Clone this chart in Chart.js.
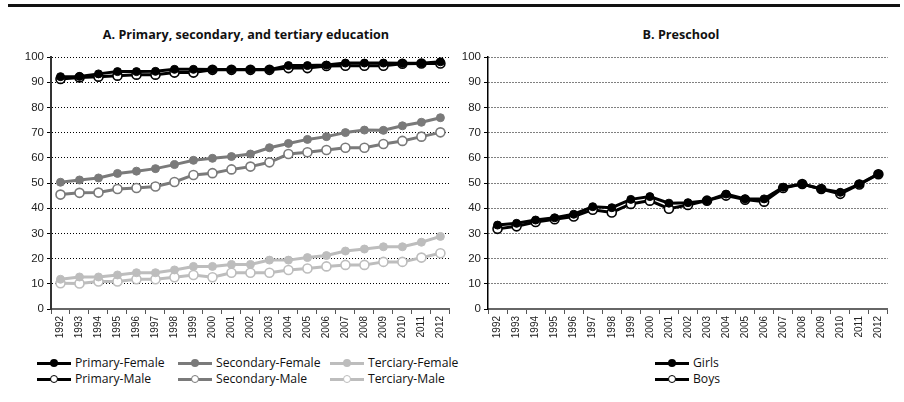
<!DOCTYPE html>
<html>
<head>
<meta charset="utf-8">
<script src="https://cdn.jsdelivr.net/npm/chart.js@4.4.0/dist/chart.umd.min.js"></script>
<style>
  body { margin: 0; background: #fff; width: 904px; height: 402px; position: relative; overflow: hidden;
         font-family: "Liberation Sans Narrow", "Arial Narrow", "Open Sans", sans-serif; color: #111; }
  .rule { position: absolute; left: 8px; top: 4px; width: 892px; height: 3px; background: #111; }
  .title { position: absolute; top: 27px; font-weight: bold; font-size: 12.6px; line-height: 16px; white-space: nowrap; transform: translateX(-50%); }
  .box { position: absolute; }
  .item { position: absolute; height: 16px; font-size: 12.2px; line-height: 16px; white-space: nowrap; }
  .item .ln { position: absolute; left: 0; top: 6.5px; width: 34px; height: 3px; }
  .item .dot { position: absolute; left: 13px; top: 4px; width: 8px; height: 8px; border-radius: 50%; box-sizing: border-box; }
  .item .tx { position: absolute; left: 38px; top: 0; }
</style>
</head>
<body>
<div class="rule"></div>
<div class="title" style="left:246px">A. Primary, secondary, and tertiary education</div>
<div class="title" style="left:681px">B. Preschool</div>
<div class="box" style="left:0;top:40px"><canvas id="chartA" width="456" height="300"></canvas></div>
<div class="box" style="left:450px;top:40px"><canvas id="chartB" width="444" height="300"></canvas></div>
<div id="legend"></div>
<script>
// categories
const years = ['1992', '1993', '1994', '1995', '1996', '1997', '1998', '1999', '2000', '2001', '2002',
               '2003', '2004', '2005', '2006', '2007', '2008', '2009', '2010', '2011', '2012'];

// panel A: primary, secondary, tertiary enrolment (%)
const primaryFemale   = [92.2, 92.3, 93.3, 94.2, 94.2, 94.3, 95.1, 95.1, 95.0, 95.0, 95.0, 95.0, 96.6, 96.6, 96.8, 97.6, 97.6, 97.6, 97.5, 97.5, 98.1];
const primaryMale     = [91.3, 91.9, 92.2, 92.6, 93.0, 93.0, 93.8, 93.8, 94.9, 94.9, 94.9, 94.9, 95.6, 95.6, 96.4, 96.5, 96.5, 96.5, 97.3, 97.4, 97.4];
const secondaryFemale = [50.3, 51.2, 52.0, 53.8, 54.7, 55.7, 57.3, 59.0, 59.8, 60.5, 61.5, 64.0, 65.7, 67.3, 68.4, 70.0, 71.0, 70.9, 72.7, 74.1, 75.9];
const secondaryMale   = [45.4, 46.1, 46.2, 47.6, 48.0, 48.6, 50.4, 53.2, 53.9, 55.4, 56.5, 58.2, 61.5, 62.2, 63.1, 64.0, 64.0, 65.5, 66.7, 68.4, 70.1];
const terciaryFemale  = [11.8, 12.7, 12.7, 13.5, 14.4, 14.4, 15.5, 16.9, 16.9, 17.7, 17.7, 19.4, 19.4, 20.4, 21.2, 23.0, 23.8, 24.7, 24.7, 26.5, 28.8];
const terciaryMale    = [10.2, 10.1, 10.9, 10.9, 11.8, 11.8, 12.6, 13.5, 12.6, 14.4, 14.4, 14.4, 15.5, 16.1, 16.9, 17.5, 17.5, 18.7, 18.7, 20.4, 22.1];

// panel B: preschool enrolment (%)
const girls = [33.3, 34.0, 35.3, 36.2, 37.6, 40.6, 40.2, 43.5, 44.6, 42.0, 42.2, 43.0, 45.6, 43.7, 43.7, 48.3, 49.6, 47.6, 46.3, 49.6, 53.6];
const boys  = [31.8, 32.8, 34.5, 35.6, 36.7, 39.4, 38.3, 41.7, 43.0, 39.8, 41.3, 43.0, 45.0, 43.4, 42.6, 48.0, 49.6, 47.6, 45.7, 49.4, 53.5];

const yTicks = [0, 10, 20, 30, 40, 50, 60, 70, 80, 90, 100];

const BLACK = '#000000';
const MID = '#7a7a7a';
const LIGHT = '#bdbdbd';

function filled(label, data, color) {
    return {
        label, data,
        borderColor: color, borderWidth: 3,
        pointRadius: 4, pointBackgroundColor: color, pointBorderColor: color, pointBorderWidth: 1,
        tension: 0, fill: false
    };
}

function open(label, data, color) {
    return {
        label, data,
        borderColor: color, borderWidth: 3,
        pointRadius: 4.5, pointBackgroundColor: '#ffffff', pointBorderColor: color, pointBorderWidth: 1.6,
        tension: 0, fill: false
    };
}

function makeOptions(yWidth, padRight, yAxisColor, yAxisWidth) {
    return {
        responsive: false,
        animation: false,
        devicePixelRatio: 1,
        layout: { padding: { top: 17, right: padRight, left: 0, bottom: 0 } },
        plugins: { legend: { display: false }, tooltip: { enabled: false } },
        scales: {
            x: {
                type: 'category',
                offset: true,
                grid: { drawOnChartArea: false, drawTicks: true, tickLength: 5, offset: true, tickColor: '#555', tickWidth: 1 },
                border: { color: '#666', width: 2 },
                ticks: {
                    autoSkip: false, minRotation: 90, maxRotation: 90, padding: 2,
                    color: '#222', font: { family: '"Liberation Sans", Arial, sans-serif', size: 10 }
                },
                afterFit: s => { s.height = 31; }
            },
            y: {
                min: 0, max: 100,
                afterBuildTicks: s => { s.ticks = yTicks.map(v => ({ value: v })); },
                grid: { color: '#000', lineWidth: 1, tickLength: 4, tickColor: '#000', tickWidth: 1 },
                border: { color: yAxisColor, width: yAxisWidth, dash: [1, 2] },
                ticks: {
                    padding: 3, color: '#222',
                    font: { family: '"Liberation Sans Narrow", "Arial Narrow", sans-serif', size: 11.5 }
                },
                afterFit: s => { s.width = yWidth; }
            }
        }
    };
}

new Chart(document.getElementById('chartA'), {
    type: 'line',
    data: {
        labels: years,
        datasets: [
            filled('Primary-Female', primaryFemale, BLACK),
            open('Primary-Male', primaryMale, BLACK),
            filled('Secondary-Female', secondaryFemale, MID),
            open('Secondary-Male', secondaryMale, MID),
            filled('Terciary-Female', terciaryFemale, LIGHT),
            open('Terciary-Male', terciaryMale, LIGHT)
        ]
    },
    options: makeOptions(51, 3, '#333', 2)
});

new Chart(document.getElementById('chartB'), {
    type: 'line',
    data: {
        labels: years,
        datasets: [
            filled('Girls', girls, BLACK),
            open('Boys', boys, BLACK)
        ]
    },
    options: makeOptions(38, 4, '#000', 1.5)
});

// legend
const legendItems = [
    { label: 'Primary-Female', color: BLACK, open: false, x: 37, y: 355 },
    { label: 'Primary-Male', color: BLACK, open: true, x: 37, y: 371 },
    { label: 'Secondary-Female', color: MID, open: false, x: 178, y: 355 },
    { label: 'Secondary-Male', color: MID, open: true, x: 178, y: 371 },
    { label: 'Terciary-Female', color: LIGHT, open: false, x: 330, y: 355 },
    { label: 'Terciary-Male', color: LIGHT, open: true, x: 330, y: 371 },
    { label: 'Girls', color: BLACK, open: false, x: 655, y: 355 },
    { label: 'Boys', color: BLACK, open: true, x: 655, y: 371 }
];

const legend = document.getElementById('legend');
legendItems.forEach(it => {
    const d = document.createElement('div');
    d.className = 'item';
    d.style.left = it.x + 'px';
    d.style.top = it.y + 'px';
    const dotStyle = it.open
        ? `background:#fff;border:1.5px solid ${it.color};`
        : `background:${it.color};`;
    d.innerHTML = `<span class="ln" style="background:${it.color}"></span>` +
                  `<span class="dot" style="${dotStyle}"></span>` +
                  `<span class="tx">${it.label}</span>`;
    legend.appendChild(d);
});
</script>
</body>
</html>
